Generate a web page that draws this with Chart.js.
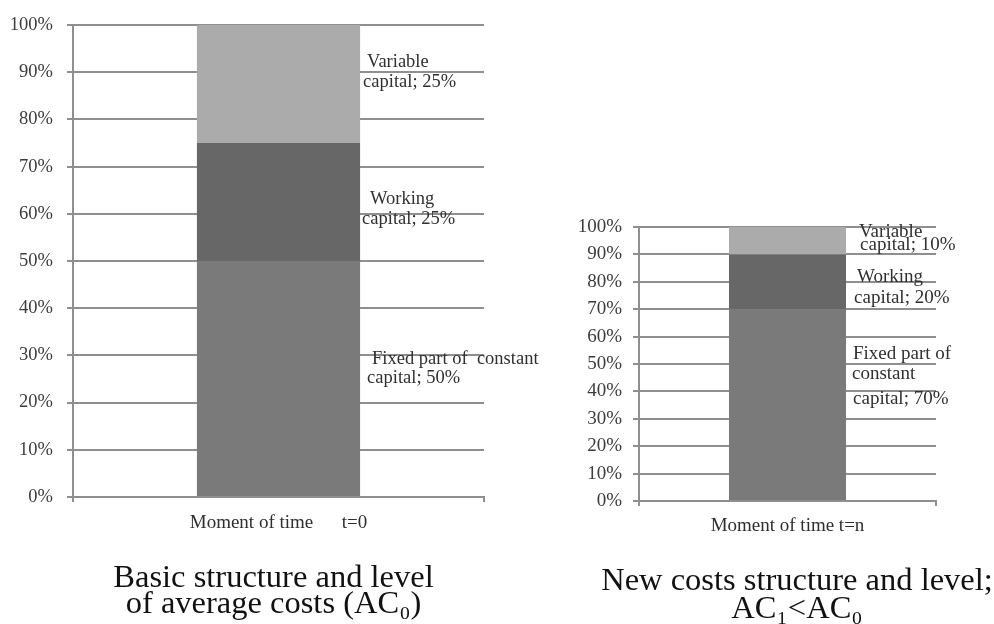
<!DOCTYPE html>
<html>
<head>
<meta charset="utf-8">
<script src="https://cdn.jsdelivr.net/npm/chart.js@4.4.1/dist/chart.umd.min.js"></script>
<style>
  html, body { margin: 0; padding: 0; background: #ffffff; }
  body { width: 994px; height: 624px; position: relative; overflow: hidden; }
  .panel { position: absolute; top: 0; height: 624px; }
</style>
</head>
<body>
<div class="panel" style="left:0;width:560px"><canvas id="baseChart" width="560" height="624"></canvas></div>
<div class="panel" style="left:520px;width:474px"><canvas id="newChart" width="474" height="624"></canvas></div>
<script>
// Cost structure components, bottom to top of each stacked bar
const seriesNames = ['Fixed part of constant capital', 'Working capital', 'Variable capital'];
const baseShares = [50, 25, 25];   // moment t=0, %
const newShares = [70, 20, 10];    // moment t=n, %
const yTickValues = [0, 10, 20, 30, 40, 50, 60, 70, 80, 90, 100];
const baseCategories = ['Moment of time      t=0'];
const newCategories = ['Moment of time t=n'];
// Wrapped label text per segment; the value is appended to the last line
const baseLabelLines = [['Fixed part of  constant', 'capital; '], ['Working', 'capital; '], ['Variable', 'capital; ']];
const newLabelLines = [['Fixed part of', 'constant', 'capital; '], ['Working', 'capital; '], ['Variable', 'capital; ']];
const baseTitle = ['Basic structure and level', 'of average costs (AC\u2080)'];
const newTitle = ['New costs structure and level;', 'AC\u2081<AC\u2080'];

const segmentColors = ['#7a7a7a', '#676767', '#ababab'];
const lineGray = '#8f8f8f';
const serif = '"Liberation Serif", "Times New Roman", serif';

Chart.defaults.font.family = serif;

// Writes "name; value%" labels beside each stacked segment
const segmentLabels = {
  id: 'segmentLabels',
  afterDatasetsDraw(chart, args, opts) {
    const ctx = chart.ctx;
    ctx.save();
    ctx.font = opts.size + 'px ' + serif;
    ctx.fillStyle = opts.color;
    ctx.textAlign = 'left';
    ctx.textBaseline = 'middle';
    chart.data.datasets.forEach((ds, i) => {
      const bar = chart.getDatasetMeta(i).data[0];
      const right = bar.x + bar.width / 2;
      const mid = (bar.y + bar.base) / 2;
      const lines = opts.lines[i].slice();
      lines[lines.length - 1] += ds.data[0] + '%';
      const place = opts.place[i];
      lines.forEach((t, k) => ctx.fillText(t, right + place.dx[k], mid + place.dy[k]));
    });
    ctx.restore();
  }
};

// Centres the caption block under the panel
const captionPosition = {
  id: 'captionPosition',
  afterLayout(chart, args, opts) {
    const t = chart.titleBlock;
    if (!t) return;
    t.left = opts.center - opts.half;
    t.right = opts.center + opts.half;
  }
};

function buildChart(canvasId, cfg) {
  const datasets = seriesNames.map((name, i) => ({
    label: name,
    data: [cfg.values[i]],
    backgroundColor: segmentColors[i],
    borderWidth: 0,
    barPercentage: cfg.barPercentage,
    categoryPercentage: 1
  }));
  return new Chart(document.getElementById(canvasId), {
    type: 'bar',
    data: { labels: cfg.categories, datasets },
    plugins: [segmentLabels, captionPosition],
    options: {
      responsive: false,
      devicePixelRatio: 1,
      animation: false,
      layout: { padding: { top: cfg.padTop, right: cfg.padRight, left: 0, bottom: 0 } },
      scales: {
        x: {
          stacked: true,
          offset: true,
          afterFit: s => { s.height = cfg.xHeight; },
          grid: { offset: true, drawOnChartArea: false, drawTicks: true, tickLength: 5, color: lineGray, lineWidth: 2 },
          border: { display: true, color: lineGray, width: 2 },
          ticks: { color: '#2e2e2e', font: { size: 19 }, padding: cfg.xTickPad, maxRotation: 0, autoSkip: false }
        },
        y: {
          stacked: true,
          min: yTickValues[0],
          max: yTickValues[yTickValues.length - 1],
          afterFit: s => { s.width = cfg.yWidth; },
          afterBuildTicks: s => { s.ticks = yTickValues.map(v => ({ value: v })); },
          grid: { color: lineGray, lineWidth: 2, tickLength: 6, tickColor: lineGray },
          border: { display: true, color: lineGray, width: 2 },
          ticks: { color: '#3c3c3c', font: { size: cfg.tickSize }, padding: cfg.yTickPad, callback: v => v + '%' }
        }
      },
      plugins: {
        legend: { display: false },
        tooltip: { enabled: false },
        title: {
          display: true,
          position: 'bottom',
          text: cfg.title,
          color: '#111111',
          font: { size: 32.5, weight: 'normal', lineHeight: cfg.titleLineHeight },
          padding: { top: 0, bottom: cfg.titlePadBottom }
        },
        captionPosition: { center: cfg.titleCenter, half: 240 },
        segmentLabels: { lines: cfg.labelLines, size: cfg.labelSize, color: '#303030', place: cfg.labelPlace }
      }
    }
  });
}

buildChart('baseChart', {
  values: baseShares,
  categories: baseCategories,
  labelLines: baseLabelLines,
  title: baseTitle,
  barPercentage: 0.397,
  padTop: 25, padRight: 76,
  yWidth: 73, yTickPad: 14, tickSize: 18.5,
  xHeight: 68, xTickPad: 10,
  titleLineHeight: 0.8, titlePadBottom: 7, titleCenter: 273.5,
  labelSize: 18.5,
  labelPlace: [
    { dx: [12, 7], dy: [-19, 0] },
    { dx: [10, 2], dy: [-3, 17] },
    { dx: [7, 3], dy: [-22, -2] }
  ]
});

buildChart('newChart', {
  values: newShares,
  categories: newCategories,
  labelLines: newLabelLines,
  title: newTitle,
  barPercentage: 0.394,
  padTop: 227, padRight: 58,
  yWidth: 119, yTickPad: 11, tickSize: 19,
  xHeight: 66, xTickPad: 9,
  titleLineHeight: 0.8615, titlePadBottom: 1, titleCenter: 277,
  labelSize: 19,
  labelPlace: [
    { dx: [7, 6, 7], dy: [-50.5, -31, -6] },
    { dx: [11, 8], dy: [-5, 16] },
    { dx: [13, 14], dy: [-9, 4] }
  ]
});
</script>
</body>
</html>
